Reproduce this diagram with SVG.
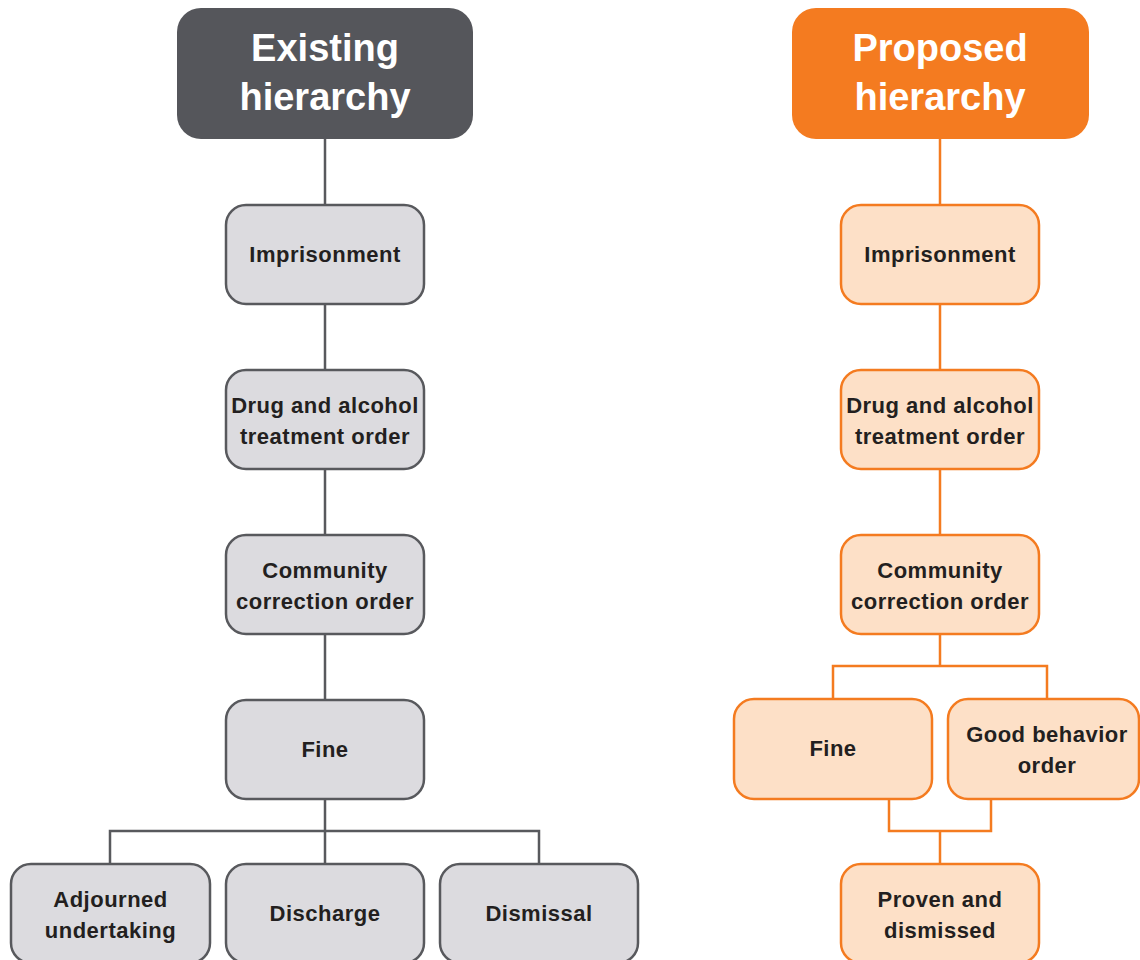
<svg xmlns="http://www.w3.org/2000/svg" width="1140" height="960" viewBox="0 0 1140 960">
<style>
.t{font-family:"Liberation Sans",Arial,sans-serif;font-weight:bold;font-size:22px;letter-spacing:0.5px;fill:#231f20;text-anchor:middle}
.h{font-family:"Liberation Sans",Arial,sans-serif;font-weight:bold;font-size:38px;fill:#ffffff;text-anchor:middle}
.ng{fill:#dcdbdf;stroke:#58595d;stroke-width:2.5}
.no{fill:#fde0c7;stroke:#f47b20;stroke-width:2.5}
.cg{fill:none;stroke:#58595d;stroke-width:2.5}
.co{fill:none;stroke:#f47b20;stroke-width:2.5}
</style>
<rect width="1140" height="960" fill="#ffffff"/>
<g id="connectors">
<path class="cg" d="M325 139V205M325 304V370M325 469V535M325 634V700M325 799V864M110 864V831H539V864"/>
<path class="co" d="M940 139V205M940 304V370M940 469V535M940 634V666M833 699V666H1047V699M889 799V831H991V799M940 831V864"/>
</g>
<g id="existing-header"><rect x="177" y="8" width="296" height="131" rx="24" fill="#55565b"/><text class="h" x="325" y="61">Existing</text><text class="h" x="325" y="110">hierarchy</text></g>
<g id="proposed-header"><rect x="792" y="8" width="297" height="131" rx="24" fill="#f47b20"/><text class="h" x="940" y="61">Proposed</text><text class="h" x="940" y="110">hierarchy</text></g>
<g id="e-imprisonment"><rect class="ng" x="226" y="205" width="198" height="99" rx="20"/><text class="t" x="325" y="262">Imprisonment</text></g>
<g id="e-drug"><rect class="ng" x="226" y="370" width="198" height="99" rx="20"/><text class="t" x="325" y="412.5">Drug and alcohol</text><text class="t" x="325" y="443.5">treatment order</text></g>
<g id="e-community"><rect class="ng" x="226" y="535" width="198" height="99" rx="20"/><text class="t" x="325" y="577.5">Community</text><text class="t" x="325" y="608.5">correction order</text></g>
<g id="e-fine"><rect class="ng" x="226" y="700" width="198" height="99" rx="20"/><text class="t" x="325" y="757">Fine</text></g>
<g id="e-adjourned"><rect class="ng" x="11" y="864" width="199" height="99" rx="20"/><text class="t" x="110.5" y="906.5">Adjourned</text><text class="t" x="110.5" y="937.5">undertaking</text></g>
<g id="e-discharge"><rect class="ng" x="226" y="864" width="198" height="99" rx="20"/><text class="t" x="325" y="921">Discharge</text></g>
<g id="e-dismissal"><rect class="ng" x="440" y="864" width="198" height="99" rx="20"/><text class="t" x="539" y="921">Dismissal</text></g>
<g id="p-imprisonment"><rect class="no" x="841" y="205" width="198" height="99" rx="20"/><text class="t" x="940" y="262">Imprisonment</text></g>
<g id="p-drug"><rect class="no" x="841" y="370" width="198" height="99" rx="20"/><text class="t" x="940" y="412.5">Drug and alcohol</text><text class="t" x="940" y="443.5">treatment order</text></g>
<g id="p-community"><rect class="no" x="841" y="535" width="198" height="99" rx="20"/><text class="t" x="940" y="577.5">Community</text><text class="t" x="940" y="608.5">correction order</text></g>
<g id="p-fine"><rect class="no" x="734" y="699" width="198" height="100" rx="20"/><text class="t" x="833" y="756">Fine</text></g>
<g id="p-goodbehavior"><rect class="no" x="948" y="699" width="191" height="100" rx="20"/><text class="t" x="1047" y="741.5">Good behavior</text><text class="t" x="1047" y="772.5">order</text></g>
<g id="p-proven"><rect class="no" x="841" y="864" width="198" height="99" rx="20"/><text class="t" x="940" y="906.5">Proven and</text><text class="t" x="940" y="937.5">dismissed</text></g>
</svg>
